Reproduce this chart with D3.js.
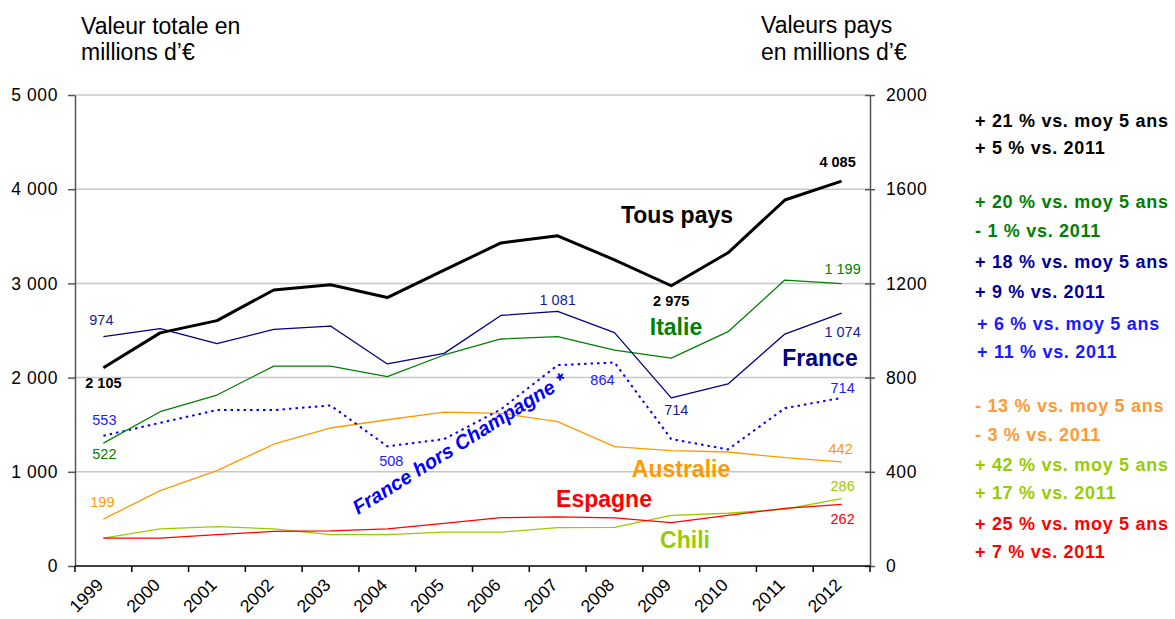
<!DOCTYPE html>
<html>
<head>
<meta charset="utf-8">
<script src="https://cdn.jsdelivr.net/npm/d3@7"></script>
<style>
  body { margin: 0; background: #fff; }
  text { font-family: "Liberation Sans", Arial, sans-serif; }
</style>
</head>
<body>
<div id="chart"></div>
<script>
var years = [1999, 2000, 2001, 2002, 2003, 2004, 2005, 2006, 2007, 2008, 2009, 2010, 2011, 2012]

// left axis (valeur totale)
var tousPays = [2105, 2475, 2605, 2930, 2985, 2850, 3140, 3430, 3505, 3250, 2975, 3325, 3885, 4085]

// right axis (valeurs pays)
var italie = [522, 655, 726, 849, 849, 804, 896, 964, 974, 917, 883, 995, 1214, 1199]
var france = [974, 1008, 944, 1005, 1019, 858, 903, 1064, 1081, 991, 714, 773, 985, 1074]
var horsChampagne = [553, 608, 662, 662, 682, 508, 539, 665, 853, 864, 539, 495, 670, 714]
var australie = [199, 320, 405, 517, 586, 621, 653, 648, 613, 507, 490, 484, 460, 442]
var espagne = [118, 118, 133, 147, 149, 158, 181, 205, 209, 204, 184, 215, 245, 262]
var chili = [118, 158, 167, 158, 133, 133, 144, 144, 163, 164, 215, 224, 241, 286]

var leftTicks = [0, 1000, 2000, 3000, 4000, 5000]
var rightTicks = [0, 400, 800, 1200, 1600, 2000]

var notes = [
  ["+ 21 % vs. moy 5 ans", "+ 5 % vs. 2011"],
  ["+ 20 % vs. moy 5 ans", "- 1 % vs. 2011"],
  ["+ 18 % vs. moy 5 ans", "+ 9 % vs. 2011"],
  ["+ 6 % vs. moy 5 ans", "+ 11 % vs. 2011"],
  ["- 13 % vs. moy 5 ans", "- 3 % vs. 2011"],
  ["+ 42 % vs. moy 5 ans", "+ 17 % vs. 2011"],
  ["+ 25 % vs. moy 5 ans", "+ 7 % vs. 2011"]
]

var chartWidth = 1175
var chartHeight = 619
var margin = { left: 75, right: 305, top: 95, bottom: 53 }

var fmt = d3.formatLocale({ decimal: ",", thousands: " ", grouping: [3], currency: ["", "€"] }).format(",")

var svg = d3.select("#chart")
  .append("svg")
  .attr("width", chartWidth)
  .attr("height", chartHeight)

var x = d3.scaleBand()
  .domain(years)
  .range([margin.left, chartWidth - margin.right])

var yL = d3.scaleLinear()
  .domain([0, 5000])
  .range([chartHeight - margin.bottom, margin.top])

var yR = d3.scaleLinear()
  .domain([0, 2000])
  .range([chartHeight - margin.bottom, margin.top])

var cx = function(i) { return x(years[i]) + x.bandwidth() / 2 }

// gridlines
svg.append("g")
  .selectAll("line")
  .data(leftTicks.slice(1))
  .enter()
  .append("line")
  .attr("x1", margin.left)
  .attr("x2", chartWidth - margin.right)
  .attr("y1", function(d) { return yL(d) })
  .attr("y2", function(d) { return yL(d) })
  .style("stroke", "#c8c8c8")
  .style("stroke-width", 1.5)

// left axis
var axL = svg.append("g")
  .attr("transform", "translate(" + margin.left + ",0)")
  .call(d3.axisLeft(yL).tickValues(leftTicks).tickFormat(fmt).tickSize(7).tickSizeOuter(0).tickPadding(10))
axL.select(".domain").style("stroke", "#555").style("stroke-width", 1.5)
axL.selectAll(".tick line").style("stroke", "#555").style("stroke-width", 1.5)
axL.selectAll("text").style("font-size", "17.5px").style("letter-spacing", "0.6px").style("fill", "#000")

// right axis
var axR = svg.append("g")
  .attr("transform", "translate(" + (chartWidth - margin.right) + ",0)")
  .call(d3.axisRight(yR).tickValues(rightTicks).tickFormat(d3.format("d")).tickSize(5).tickSizeOuter(0).tickPadding(11))
axR.select(".domain").style("stroke", "#555").style("stroke-width", 1.5)
axR.selectAll(".tick line").attr("x1", -5).style("stroke", "#555").style("stroke-width", 1.5)
axR.selectAll("text").style("font-size", "17.5px").style("letter-spacing", "0.6px").style("fill", "#000")

// bottom axis
var baseY = chartHeight - margin.bottom
svg.append("line")
  .attr("x1", margin.left).attr("x2", chartWidth - margin.right)
  .attr("y1", baseY).attr("y2", baseY)
  .style("stroke", "#000").style("stroke-width", 1.5)

svg.append("g")
  .selectAll("line")
  .data(years.concat([null]))
  .enter()
  .append("line")
  .attr("x1", function(d) { return d === null ? x.range()[1] : x(d) })
  .attr("x2", function(d) { return d === null ? x.range()[1] : x(d) })
  .attr("y1", baseY)
  .attr("y2", baseY + 6)
  .style("stroke", "#000")
  .style("stroke-width", 1.5)

svg.append("g")
  .selectAll("text")
  .data(years)
  .enter()
  .append("text")
  .attr("transform", function(d, i) { return "translate(" + (cx(i) + 1) + "," + (baseY + 20) + ") rotate(-45)" })
  .attr("text-anchor", "end")
  .style("font-size", "17.5px")
  .text(function(d) { return d })

// axis titles
var titles = svg.append("g").style("font-size", "23px")
titles.append("text").attr("x", 81).attr("y", 34).text("Valeur totale en")
titles.append("text").attr("x", 81).attr("y", 60).text("millions d’€")
titles.append("text").attr("x", 761).attr("y", 33).text("Valeurs pays")
titles.append("text").attr("x", 761).attr("y", 60).text("en millions d’€")

// series
var series = [
  { name: "Tous pays", values: tousPays, y: yL, color: "#000", width: 3 },
  { name: "Italie", values: italie, y: yR, color: "#008000", width: 1.3 },
  { name: "France", values: france, y: yR, color: "#000080", width: 1.3 },
  { name: "France hors Champagne", values: horsChampagne, y: yR, color: "#0000ff", width: 2, dash: "2.5,4" },
  { name: "Australie", values: australie, y: yR, color: "#ff9900", width: 1.3 },
  { name: "Espagne", values: espagne, y: yR, color: "#ff0000", width: 1.3 },
  { name: "Chili", values: chili, y: yR, color: "#99cc00", width: 1.3 }
]

var drawOrder = [6, 5, 4, 3, 1, 2, 0]
drawOrder.forEach(function(k) {
  var s = series[k]
  var line = d3.line()
    .x(function(d, i) { return cx(i) })
    .y(function(d) { return s.y(d) })
  svg.append("path")
    .datum(s.values)
    .attr("d", line)
    .style("fill", "none")
    .style("stroke", s.color)
    .style("stroke-width", s.width)
    .style("stroke-dasharray", s.dash || null)
    .style("stroke-linejoin", "round")
})

// value labels: [series index, year index, dx, dy, bold]
var valueLabels = [
  [0, 0, 0, 20, true], [0, 10, 0, 20, true], [0, 13, -4, -14, true],
  [2, 0, -2, -12], [2, 8, 0, -6], [2, 10, 5, 17], [2, 13, 1, 24],
  [3, 0, 1, -11], [3, 5, 4, 20], [3, 9, -12, 22], [3, 13, 1, -5],
  [1, 0, 1, 16], [1, 13, 1, -10],
  [4, 0, -1, -12], [4, 13, -1, -8],
  [6, 13, 1, -8],
  [5, 13, 1, 20]
]
svg.append("g")
  .selectAll("text")
  .data(valueLabels)
  .enter()
  .append("text")
  .attr("x", function(d) { return cx(d[1]) + d[2] })
  .attr("y", function(d) { var s = series[d[0]]; return s.y(s.values[d[1]]) + d[3] })
  .attr("text-anchor", "middle")
  .style("font-size", "14.5px")
  .style("font-weight", function(d) { return d[4] ? "bold" : "normal" })
  .style("fill", function(d) { return d[0] === 2 ? "#1a1a99" : (d[0] === 3 ? "#1a1aff" : series[d[0]].color) })
  .text(function(d) { return fmt(series[d[0]].values[d[1]]) })

// series names
var names = [
  { text: "Tous pays", x: 677, y: 223, color: "#000" },
  { text: "Italie", x: 676, y: 335, color: "#008000" },
  { text: "France", x: 820, y: 366, color: "#000080" },
  { text: "Australie", x: 681, y: 477, color: "#ff9900" },
  { text: "Espagne", x: 604, y: 507, color: "#ff0000" },
  { text: "Chili", x: 685, y: 548, color: "#99cc00" }
]
svg.append("g")
  .selectAll("text")
  .data(names)
  .enter()
  .append("text")
  .attr("x", function(d) { return d.x })
  .attr("y", function(d) { return d.y })
  .attr("text-anchor", "middle")
  .style("font-size", "23px")
  .style("font-weight", "bold")
  .style("fill", function(d) { return d.color })
  .text(function(d) { return d.text })

svg.append("text")
  .attr("transform", "translate(358,515) rotate(-32)")
  .style("font-size", "20px")
  .style("font-weight", "bold")
  .style("font-style", "italic")
  .style("fill", "#0000ff")
  .text("France hors Champagne *")

// right-hand notes
var noteColors = ["#000", "#008000", "#000099", "#1a1aff", "#ff9933", "#99cc00", "#ff0000"]
var noteY = [[127, 154], [208, 237], [268, 298], [330, 358], [412, 441], [471, 499], [530, 558]]
var noteX = [975, 975, 975, 977, 975, 975, 975]
var g = svg.append("g")
notes.forEach(function(pair, k) {
  pair.forEach(function(t, j) {
    g.append("text")
      .attr("x", noteX[k])
      .attr("y", noteY[k][j])
      .style("font-size", "18px")
      .style("font-weight", "bold")
      .style("letter-spacing", "0.7px")
      .style("fill", noteColors[k])
      .text(t)
  })
})
</script>
</body>
</html>
